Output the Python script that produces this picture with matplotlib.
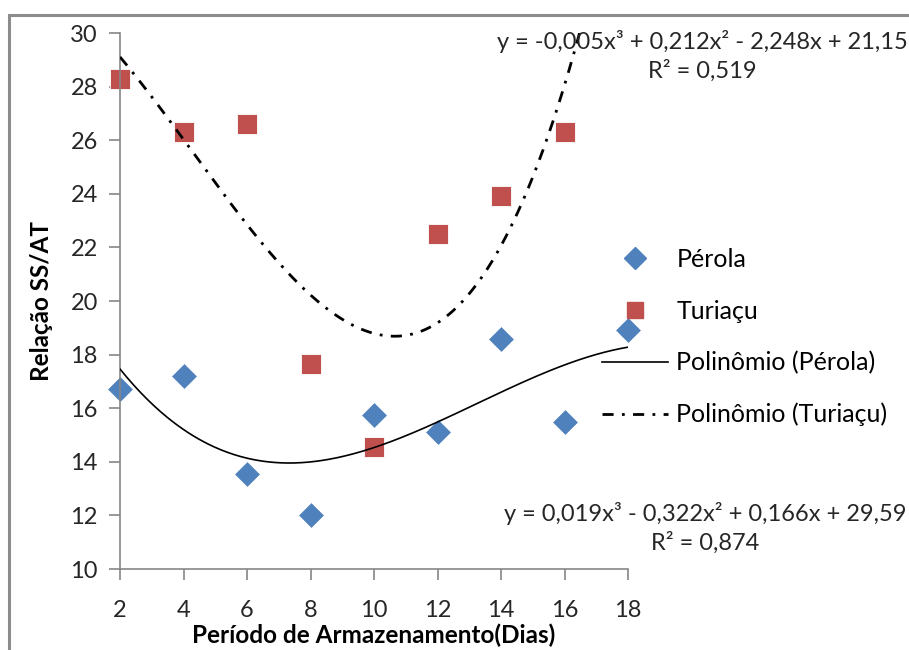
import numpy as np
import matplotlib
matplotlib.use("Agg")
import matplotlib.pyplot as plt
from matplotlib.lines import Line2D
from matplotlib.patches import Rectangle

plt.rcParams['font.family'] = ['Lato', 'DejaVu Sans']

dias_perola = [2, 4, 6, 8, 10, 12, 14, 16, 18]
perola = [16.7, 17.2, 13.55, 12.0, 15.75, 15.1, 18.6, 15.5, 18.9]
# the last Turiaçu point (day 18) lies above the 30 limit and is clipped in the chart
dias_turiacu = [2, 4, 6, 8, 10, 12, 14, 16, 18]
turiacu = [28.3, 26.3, 26.6, 17.65, 14.55, 22.5, 23.9, 26.3, 38.0]

xticks = [2, 4, 6, 8, 10, 12, 14, 16, 18]
yticks = [10, 12, 14, 16, 18, 20, 22, 24, 26, 28, 30]

eq_turiacu = "y = -0,005x³ + 0,212x² - 2,248x + 21,15\nR² = 0,519"
eq_perola = "y = 0,019x³ - 0,322x² + 0,166x + 29,59\nR² = 0,874"

fig = plt.figure(figsize=(9.09, 6.5), dpi=100)
ax = fig.add_axes([120/909, 1-569/650, (628-120)/909, (569-33)/650])

fig.patches.append(Rectangle((9/909, -0.1), 1.2, (650-15)/650 + 0.1, transform=fig.transFigure,
                             fill=False, edgecolor='#8c8c8c', linewidth=2.2))

blue = '#4F81BD'
red = '#C0504D'

cp = np.polyfit(dias_perola, perola, 3)
xp = np.linspace(min(dias_perola), max(dias_perola), 300)
ax.plot(xp, np.polyval(cp, xp), color='black', lw=1.2, zorder=3)

ct = np.polyfit(dias_turiacu, turiacu, 3)
xt = np.linspace(min(dias_turiacu), max(dias_turiacu), 300)
ax.plot(xt, np.polyval(ct, xt), color='black', lw=2.0, dashes=(4, 3, 1, 3), zorder=3)

ax.plot(dias_perola, perola, 'D', color=blue, markersize=13, markeredgecolor='white',
        markeredgewidth=0.6, zorder=2, clip_on=False)
t_x = np.array(dias_turiacu)
t_y = np.array(turiacu)
vis = t_y <= 30
ax.plot(t_x[vis], t_y[vis], 's', color=red, markersize=14, markeredgecolor='white',
        markeredgewidth=0.6, zorder=2, clip_on=False)

ax.set_xlim(2, 18)
ax.set_ylim(10, 30)
ax.set_xticks(xticks)
ax.set_yticks(yticks)
ax.tick_params(axis='both', labelsize=17, length=8, width=1.2, color='#868686', labelcolor='#262626')
ax.tick_params(axis='x', pad=14)
ax.tick_params(axis='y', pad=8)
for s in ['top', 'right']:
    ax.spines[s].set_visible(False)
for s in ['left', 'bottom']:
    ax.spines[s].set_color('#868686')
    ax.spines[s].set_linewidth(1.2)

ax.set_ylabel('Relação SS/AT', fontsize=17.5, fontweight='bold', labelpad=12)
ax.set_xlabel('Período de Armazenamento(Dias)', fontsize=17.5, fontweight='bold', labelpad=2)

handles = [
    Line2D([], [], ls='none', marker='D', color=blue, markersize=11),
    Line2D([], [], ls='none', marker='s', color=red, markersize=12),
    Line2D([], [], color='black', lw=1.2),
    Line2D([], [], color='black', lw=2.0, dashes=(4, 3, 1, 3)),
]
labels = ['Pérola', 'Turiaçu', 'Polinômio (Pérola)', 'Polinômio (Turiaçu)']
fig.legend(handles, labels, loc='upper left', bbox_to_anchor=(602/909, 1-248/650), frameon=False,
           fontsize=18, labelspacing=1.14, handlelength=2.64, handletextpad=0.34,
           borderpad=0, borderaxespad=0)

fig.text(702/909, 1-56/650, eq_turiacu, ha='center', va='center', fontsize=17, linespacing=1.4,
         color='#262626', multialignment='center')
fig.text(705/909, 1-528/650, eq_perola, ha='center', va='center', fontsize=17, linespacing=1.4,
         color='#262626', multialignment='center')

fig.savefig('out.png', dpi=100)
